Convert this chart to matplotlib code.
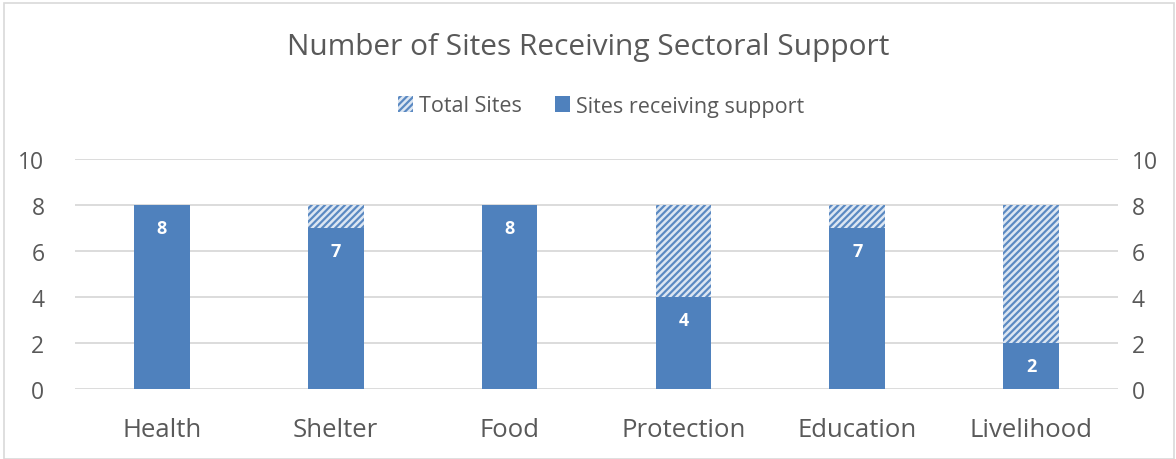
import matplotlib
matplotlib.use("Agg")
import matplotlib.pyplot as plt
from matplotlib.patches import Rectangle
import numpy as np

categories = ["Health", "Shelter", "Food", "Protection", "Education", "Livelihood"]
total_sites = [8, 8, 8, 8, 8, 8]
sites_support = [8, 7, 8, 4, 7, 2]
yticks = [0, 2, 4, 6, 8, 10]

plt.rcParams['font.family'] = ['Open Sans', 'DejaVu Sans']
plt.rcParams['hatch.color'] = '#DCE6F2'
plt.rcParams['hatch.linewidth'] = 1.8

blue = '#4F81BD'
gray_text = '#595959'
grid_col = '#D9D9D9'

fig = plt.figure(figsize=(11.76, 4.6), dpi=100)
ax = fig.add_axes([75/1176, 1-390/460, (1118-75)/1176, 230/460])

x = np.arange(len(categories))
w = 0.32
ax.bar(x, total_sites, width=w, color='#5A89C2', hatch='/////', edgecolor='#DCE6F2',
       linewidth=0, label='Total Sites', zorder=2)
ax.bar(x, sites_support, width=w, color=blue, linewidth=0,
       label='Sites receiving support', zorder=3)
for xi, v in zip(x, sites_support):
    ax.text(xi, v - 1.0, str(v), ha='center', va='center', color='white',
            fontsize=13, fontweight='bold', zorder=4)

ax.set_ylim(0, 10)
ax.set_xlim(-0.5, len(categories) - 0.5)
ax.set_yticks(yticks)
ax.yaxis.grid(True, color=grid_col, linewidth=1.3, zorder=0)
ax.set_axisbelow(True)
for s in ax.spines.values():
    s.set_visible(False)
ax.tick_params(axis='y', length=0, labelsize=16.5, colors=gray_text, pad=22)
ax.set_xticks(x)
ax.set_xticklabels(categories)
ax.tick_params(axis='x', length=0, pad=20, labelsize=18.5, colors=gray_text)

ax2 = ax.twinx()
ax2.set_ylim(0, 10)
ax2.set_yticks(yticks)
for s in ax2.spines.values():
    s.set_visible(False)
ax2.tick_params(axis='y', length=0, labelsize=16.5, colors=gray_text, pad=10)

fig.text(0.5, 1-47/460, "Number of Sites Receiving Sectoral Support", ha='center', va='center',
         fontsize=21.5, color=gray_text)

h, l = ax.get_legend_handles_labels()
fig.legend(h, l, loc='center', bbox_to_anchor=(601/1176, 1-107/460), ncol=2, frameon=False,
           fontsize=15.5, labelcolor=gray_text, handlelength=0.7, handleheight=0.7,
           handletextpad=0.3, columnspacing=1.5)

fig.patches.append(Rectangle((4/1176, 0), 1170/1176, 1-4/460, transform=fig.transFigure,
                             fill=False, edgecolor='#D9D9D9', linewidth=1.2))

fig.savefig("out.png", dpi=100)
